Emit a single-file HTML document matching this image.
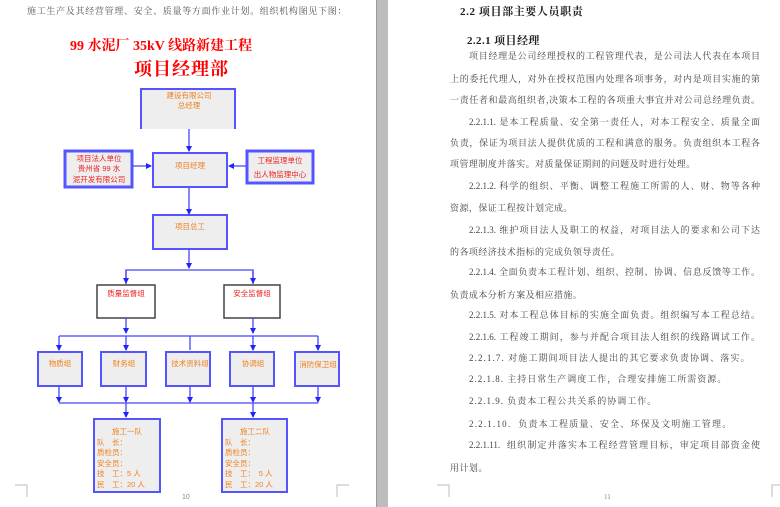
<!DOCTYPE html>
<html><head><meta charset="utf-8"><style>
html,body{margin:0;padding:0;width:780px;height:507px;overflow:hidden;background:#fff;font-family:"Liberation Serif","Noto Serif CJK SC",serif;}
.gap{position:absolute;left:376px;top:0;width:11px;height:507px;background:#bdbdbd;border-left:1px solid #999;}
.t{position:absolute;white-space:nowrap;color:#333;}
.ln{position:absolute;left:450px;width:310px;font-size:9px;color:#444;white-space:nowrap;text-align:justify;text-align-last:justify;line-height:11px;height:11px;font-family:"Liberation Serif","Noto Serif CJK SC",serif;}
.ln.i{left:469px;width:291px;}
.ln.s{text-align-last:left;letter-spacing:0.45px;}
</style></head><body>
<div class="gap"></div>

<div class="t" style="left:27px;top:4px;font-size:9px;letter-spacing:0.7px;color:#555;">施工生产及其经营管理、安全、质量等方面作业计划。组织机构图见下图：</div>
<div class="t" style="left:70px;top:35px;font-size:14px;font-weight:bold;color:#f00;">99 水泥厂 35kV 线路新建工程</div>
<div class="t" style="left:134px;top:55px;font-size:18px;font-weight:bold;color:#f00;letter-spacing:1px;">项目经理部</div>

<svg style="position:absolute;left:0;top:0" width="376" height="507" font-family="Liberation Sans,Noto Sans CJK SC,sans-serif">
<defs><marker id="a" markerWidth="6" markerHeight="6" refX="5" refY="3" orient="auto" markerUnits="userSpaceOnUse"><path d="M0,0 L6,3 L0,6z" fill="#22f"/></marker></defs>
<g fill="#eee" stroke="#55f" stroke-width="2">
<rect x="140" y="88" width="96" height="41" fill="#eee" stroke="none"/>
<path d="M141,129 V89 H235 V129"/>
<rect x="65" y="151" width="67" height="36" stroke-width="3"/>
<rect x="153" y="153" width="74" height="34"/>
<rect x="247" y="151" width="66" height="32" stroke-width="3"/>
<rect x="153" y="215" width="74" height="34"/>
<rect x="38" y="352" width="44" height="34"/>
<rect x="101" y="352" width="45" height="34"/>
<rect x="166" y="352" width="44" height="34"/>
<rect x="230" y="352" width="44" height="34"/>
<rect x="295" y="352" width="44" height="34"/>
<rect x="94" y="419" width="66" height="73"/>
<rect x="222" y="419" width="65" height="73"/>
</g>
<g fill="#fff" stroke="#444" stroke-width="1.5">
<rect x="97" y="285" width="58" height="33"/>
<rect x="224" y="285" width="56" height="33"/>
</g>
<g stroke="#44f" stroke-width="1.3" fill="none">
<path d="M189,129 V151" marker-end="url(#a)"/>
<path d="M133,166 H151" marker-end="url(#a)"/>
<path d="M246,166 H229" marker-end="url(#a)"/>
<path d="M189,188 V214" marker-end="url(#a)"/>
<path d="M189,249 V268" marker-end="url(#a)"/>
<path d="M126,284 V270 H253 V284"/>
<path d="M126,270 V283" marker-end="url(#a)"/><path d="M253,270 V283" marker-end="url(#a)"/>
<path d="M126,318 V333" marker-end="url(#a)"/><path d="M253,318 V333" marker-end="url(#a)"/>
<path d="M59,336 H318"/>
<path d="M59,336 V350" marker-end="url(#a)"/><path d="M126,336 V350" marker-end="url(#a)"/><path d="M190,336 V350"/><path d="M253,336 V350" marker-end="url(#a)"/><path d="M318,336 V350" marker-end="url(#a)"/>
<path d="M59,386 V402" marker-end="url(#a)"/><path d="M126,386 V402" marker-end="url(#a)"/><path d="M190,386 V402" marker-end="url(#a)"/><path d="M253,386 V402" marker-end="url(#a)"/><path d="M318,386 V402" marker-end="url(#a)"/>
<path d="M59,403 H318"/>
<path d="M126,403 V417" marker-end="url(#a)"/><path d="M253,403 V417" marker-end="url(#a)"/>
</g>
<g font-size="7.5" fill="#f08020" text-anchor="middle">
<text x="189" y="98">建设有限公司</text><text x="189" y="108">总经理</text>
<text x="190" y="168">项目经理</text>
<text x="190" y="229">项目总工</text>
<text x="60" y="366">物质组</text>
<text x="124" y="366">财务组</text>
<text x="190" y="366">技术资料组</text>
<text x="253" y="366">协调组</text>
<text x="318" y="367">消防保卫组</text>
<text x="127" y="434">施工一队</text>
<text x="255" y="434">施工二队</text>
</g>
<g font-size="7.5" fill="#f02020" text-anchor="middle">
<text x="99" y="161">项目法人单位</text><text x="99" y="171">贵州省 99 水</text><text x="99" y="182">泥开发有限公司</text>
<text x="280" y="163">工程监理单位</text><text x="280" y="177">出人物监理中心</text>
<text x="126" y="296">质量监督组</text>
<text x="252" y="296">安全监督组</text>
</g>
<g font-size="7.5" fill="#f08020">
<text x="97" y="445">队　长：</text><text x="97" y="455">质检员：</text><text x="97" y="466">安全员：</text><text x="97" y="476">技　工：5 人</text><text x="97" y="487">民　工：20 人</text>
<text x="225" y="445">队　长：</text><text x="225" y="455">质检员：</text><text x="225" y="466">安全员：</text><text x="225" y="476">技　工：　5 人</text><text x="225" y="487">民　工：20 人</text>
</g>
<g stroke="#bbb" fill="none"><path d="M15,485 H27 V497"/><path d="M349,485 H337 V497"/></g>
<text x="182" y="499" font-size="7" fill="#888">10</text>
</svg>

<div class="t" style="left:460px;top:3px;font-size:11px;font-weight:bold;color:#222;letter-spacing:0.6px;">2.2 项目部主要人员职责</div>
<div class="t" style="left:467px;top:32px;font-size:11px;font-weight:bold;color:#222;letter-spacing:0.4px;">2.2.1 项目经理</div>

<div class="ln i" style="top:51px">项目经理是公司经理授权的工程管理代表，是公司法人代表在本项目</div>
<div class="ln" style="top:74px">上的委托代理人，对外在授权范围内处理各项事务，对内是项目实施的第</div>
<div class="ln" style="top:95px">一责任者和最高组织者,决策本工程的各项重大事宜并对公司总经理负责。</div>
<div class="ln i" style="top:117px">2.2.1.1. 是本工程质量、安全第一责任人，对本工程安全、质量全面</div>
<div class="ln" style="top:138px">负责，保证为项目法人提供优质的工程和满意的服务。负责组织本工程各</div>
<div class="ln s" style="top:159px">项管理制度并落实。对质量保证期间的问题及时进行处理。</div>
<div class="ln i" style="top:181px">2.2.1.2. 科学的组织、平衡、调整工程施工所需的人、财、物等各种</div>
<div class="ln s" style="top:203px">资源，保证工程按计划完成。</div>
<div class="ln i" style="top:225px">2.2.1.3. 维护项目法人及职工的权益，对项目法人的要求和公司下达</div>
<div class="ln s" style="top:247px">的各项经济技术指标的完成负领导责任。</div>
<div class="ln i" style="top:267px">2.2.1.4. 全面负责本工程计划、组织、控制、协调、信息反馈等工作。</div>
<div class="ln s" style="top:290px">负责成本分析方案及相应措施。</div>
<div class="ln i" style="top:310px">2.2.1.5. 对本工程总体目标的实施全面负责。组织编写本工程总结。</div>
<div class="ln i" style="top:332px">2.2.1.6. 工程竣工期间，参与并配合项目法人组织的线路调试工作。</div>
<div class="ln i s" style="top:353px;letter-spacing:1.1px">2.2.1.7. 对施工期间项目法人提出的其它要求负责协调、落实。</div>
<div class="ln i s" style="top:374px;letter-spacing:1px">2.2.1.8. 主持日常生产调度工作，合理安排施工所需资源。</div>
<div class="ln i s" style="top:396px;letter-spacing:1px">2.2.1.9. 负责本工程公共关系的协调工作。</div>
<div class="ln i s" style="top:419px;letter-spacing:1.2px">2.2.1.10.&nbsp; 负责本工程质量、安全、环保及文明施工管理。</div>
<div class="ln i" style="top:440px">2.2.1.11.&nbsp; 组织制定并落实本工程经营管理目标，审定项目部资金使</div>
<div class="ln s" style="top:463px">用计划。</div>

<svg style="position:absolute;left:388px;top:0" width="392" height="507">
<g stroke="#bbb" fill="none"><path d="M49,485 H61 V497"/><path d="M384,497 V485 H392"/></g>
<text x="216" y="499" font-size="7" fill="#888" font-family="Liberation Serif,serif">11</text>
</svg>
</body></html>
